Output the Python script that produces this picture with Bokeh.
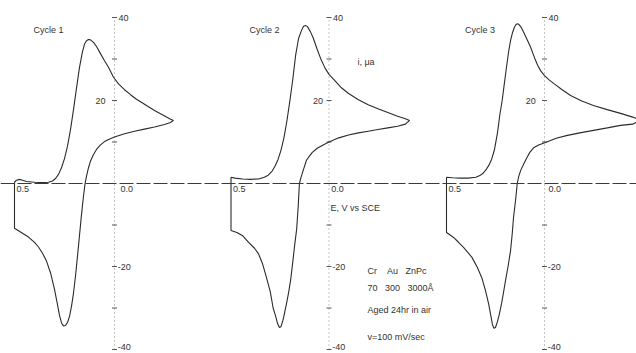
from bokeh.plotting import figure
from bokeh.models import Range1d, Span
from bokeh.core.properties import value
from bokeh.embed import file_html
from bokeh.resources import INLINE

# ---------------- data (E in V vs SCE, i in microamps) ----------------
cycle_names = ["Cycle 1", "Cycle 2", "Cycle 3"]

e_cycle1 = [0.50, 0.49, 0.475, 0.46, 0.44, 0.40, 0.36, 0.33, 0.31, 0.295, 0.28, 0.265,
            0.25, 0.235, 0.22, 0.205, 0.19, 0.175, 0.16, 0.15, 0.14, 0.13, 0.12,
            0.105, 0.09, 0.07, 0.05, 0.03, 0.005, -0.02, -0.05, -0.08, -0.11, -0.14,
            -0.17, -0.20, -0.23, -0.26, -0.28, -0.295,
            -0.28, -0.25, -0.20, -0.15, -0.10, -0.05, 0.00, 0.03, 0.05, 0.07, 0.09,
            0.105, 0.12, 0.13, 0.14, 0.147,
            0.155, 0.165, 0.175, 0.185, 0.195, 0.205, 0.215, 0.225, 0.235, 0.245,
            0.255, 0.265, 0.275, 0.285, 0.30, 0.32, 0.34, 0.36, 0.38, 0.40, 0.43,
            0.46, 0.49, 0.50, 0.50]
i_cycle1 = [0.3, 0.8, 1.0, 0.8, 0.5, 0.3, 0.2, 0.3, 0.6, 1.2, 2.2, 3.8,
            6.0, 9.0, 13.0, 17.8, 23.0, 28.0, 31.8, 33.6, 34.4, 34.7, 34.6,
            34.0, 33.0, 31.3, 29.6, 28.0, 25.6, 24.0, 22.6, 21.4, 20.3, 19.4,
            18.5, 17.6, 16.8, 16.0, 15.5, 15.2,
            14.7, 14.2, 13.6, 13.1, 12.6, 12.0, 11.2, 10.6, 10.1, 9.3, 8.2,
            7.0, 5.4, 3.8, 1.8, 0.0,
            -3.0, -7.5, -12.5, -17.5, -22.3, -26.4, -29.6, -32.0, -33.5, -34.2,
            -34.3, -33.6, -31.8, -29.2, -25.5, -21.5, -18.7, -16.8, -15.3, -14.2, -12.9,
            -12.0, -11.1, -10.8, 0.3]

e_cycle2 = [0.50, 0.48, 0.44, 0.40, 0.36, 0.33, 0.31, 0.29, 0.275, 0.26, 0.245, 0.23,
            0.215, 0.20, 0.185, 0.17, 0.155, 0.14, 0.13, 0.12, 0.11, 0.095, 0.08,
            0.06, 0.04, 0.02, 0.00, -0.03, -0.06, -0.10, -0.15, -0.20, -0.25, -0.30,
            -0.35, -0.39, -0.411,
            -0.39, -0.35, -0.30, -0.25, -0.20, -0.15, -0.10, -0.05, 0.00, 0.03, 0.06,
            0.085, 0.10, 0.115, 0.13, 0.142, 0.151,
            0.157, 0.165, 0.175, 0.185, 0.195, 0.205, 0.215, 0.225, 0.235, 0.245,
            0.253, 0.262, 0.272, 0.285, 0.30, 0.32, 0.34, 0.36, 0.38, 0.41, 0.44,
            0.47, 0.50, 0.50]
i_cycle2 = [1.5, 1.3, 1.1, 1.0, 1.1, 1.5, 2.0, 3.0, 4.2, 5.8, 8.0, 11.0,
            15.0, 19.8, 25.0, 31.0, 35.0, 36.9, 37.9, 38.1, 37.8, 36.6, 35.0,
            32.3, 29.8, 27.8, 26.3, 24.8, 23.2, 21.7, 20.2, 19.0, 18.0, 17.1,
            16.2, 15.6, 15.2,
            14.3, 13.8, 13.4, 13.0, 12.6, 12.2, 11.7, 11.0, 10.0, 9.3, 8.5,
            7.5, 6.6, 5.6, 3.4, 1.6, 0.0,
            -5.5, -11.0, -14.8, -19.0, -23.0, -26.0, -28.5, -30.8, -33.0, -34.5,
            -34.7, -33.8, -32.0, -30.0, -26.0, -22.5, -19.2, -16.9, -15.6, -14.2, -12.6,
            -11.8, -11.3, 1.5]

e_cycle3 = [0.50, 0.47, 0.43, 0.39, 0.35, 0.33, 0.315, 0.30, 0.285, 0.27, 0.255, 0.24,
            0.228, 0.216, 0.205, 0.194, 0.183, 0.173, 0.163, 0.153, 0.145, 0.138,
            0.13, 0.12, 0.11, 0.095, 0.08, 0.07, 0.05, 0.035, 0.02, 0.00, -0.025,
            -0.05, -0.09, -0.133, -0.19, -0.25, -0.32, -0.388, -0.45, -0.49,
            -0.45, -0.388, -0.32, -0.25, -0.18, -0.117, -0.06, -0.005, 0.03, 0.056,
            0.075, 0.09, 0.105, 0.122, 0.132, 0.139,
            0.148, 0.158, 0.165, 0.173, 0.186, 0.199, 0.21, 0.219, 0.23, 0.24, 0.25,
            0.258, 0.266, 0.272, 0.285, 0.301, 0.32, 0.343, 0.37, 0.413, 0.44, 0.464,
            0.485, 0.50, 0.50]
i_cycle3 = [1.5, 1.4, 1.3, 1.3, 1.5, 1.9, 2.4, 3.2, 4.3, 5.8, 8.2, 12.2,
            16.5, 20.0, 24.0, 28.0, 31.8, 34.5, 36.4, 37.7, 38.3, 38.5,
            38.3, 37.7, 36.8, 35.3, 33.8, 32.7, 30.2, 28.5, 27.2, 26.0, 24.9,
            24.0, 22.6, 21.2, 19.9, 18.8, 17.8, 16.9, 16.0, 15.3,
            14.3, 14.0, 13.4, 12.8, 12.2, 11.6, 10.9, 9.9, 9.3, 8.6,
            7.5, 6.2, 4.8, 3.1, 1.6, 0.0,
            -4.2, -8.2, -12.3, -16.1, -20.0, -23.4, -26.5, -28.9, -31.4, -33.3, -34.7,
            -34.9, -33.9, -32.3, -29.0, -25.8, -22.7, -20.2, -17.8, -15.4, -14.1, -13.0,
            -12.3, -11.8, 1.5]

y_ticks_minor = [-30, -10, 10, 30]
y_tick_values = [40, 20, -20, -40]
y_tick_labels = ["40", "20", "-20", "-40"]
x_tick_values = [0.5, 0.0]
x_tick_labels = ["0.5", "0.0"]

notes = ["Cr\u00a0\u00a0\u00a0\u00a0Au\u00a0\u00a0\u00a0ZnPc",
         "70\u00a0\u00a0\u00a0300\u00a0\u00a0\u00a03000\u00c5",
         "Aged 24hr in air",
         "v=100 mV/sec"]
current_label = "i, \u03bca"
potential_label = "E, V vs SCE"

# ---------------- layout ----------------
W, H = 636, 353
FONT = value("Liberation Sans")
INK = "#2b2b2b"
TXT = "#333333"
PX_PER_UA = 4.15
ZERO_Y = 183.0

# (pixel position of E=0.5 inside the figure, pixels per volt) for each cycle
anchors = [(14.0, 200.0), (230.5, 196.0), (446.0, 196.0)]
ranges = {}
for k, (px05, s) in enumerate(anchors):
    ranges["c%d" % (k + 1)] = Range1d(start=0.5 + px05 / s, end=0.5 - (W - px05) / s)

p = figure(width=W, height=H, output_backend="svg", toolbar_location=None,
           x_range=ranges["c1"],
           y_range=Range1d(-(H - ZERO_Y) / PX_PER_UA, ZERO_Y / PX_PER_UA),
           x_axis_type=None, y_axis_type=None, min_border=0)
p.extra_x_ranges = {"c2": ranges["c2"], "c3": ranges["c3"]}
p.grid.visible = False
p.outline_line_color = None
p.background_fill_color = "white"
p.border_fill_color = "white"

# horizontal potential axis (lightly dashed)
p.add_layout(Span(location=0, dimension="width", line_color="#3a3a3a",
                  line_width=1, line_dash="14 3"))

curves = [(e_cycle1, i_cycle1), (e_cycle2, i_cycle2), (e_cycle3, i_cycle3)]
rnames = ["default", "c2", "c3"]
lbl20_x = [0.045, 0.03, 0.045]
lbl00_x = [-0.03, -0.012, -0.02]

def txt(x, y, t, rn, align="left", baseline="middle"):
    kw = {} if rn == "default" else {"x_range_name": rn}
    p.text(x=x, y=y, text=t, text_font=FONT, text_font_size="9px",
           text_color=TXT, text_align=align, text_baseline=baseline, **kw)

for k, ((ev, iv), rn) in enumerate(zip(curves, rnames)):
    kw = {} if rn == "default" else {"x_range_name": rn}
    # current axis (dotted) with small ticks
    p.segment(x0=[0], y0=[-40], x1=[0], y1=[40], line_color="#8a8a8a",
              line_width=1, line_dash="1 3", **kw)
    p.dash(x=[0] * 8, y=y_ticks_minor + y_tick_values,
           size=5, line_color="#555555", line_width=1, **kw)
    # the voltammogram
    p.line(ev, iv, line_color=INK, line_width=1.1, **kw)

    txt([0.405], [36.9], [cycle_names[k]], rn)
    txt([-0.02], [40], [y_tick_labels[0]], rn)
    txt([lbl20_x[k]], [20], [y_tick_labels[1]], rn, align="right")
    txt([-0.016], [-20], [y_tick_labels[2]], rn)
    txt([-0.016], [-39.5], [y_tick_labels[3]], rn)
    txt([0.49, lbl00_x[k]], [-0.5, -0.5], x_tick_labels, rn, baseline="top")

# axis titles and notes (placed in cycle-2 coordinates)
txt([-0.145], [29.2], [current_label], "c2")
txt([-0.008], [-6.0], [potential_label], "c2")
txt([-0.196] * 4, [-21.0, -25.1, -30.6, -37.1], notes, "c2")

open("out.html", "w").write(file_html(p, INLINE))
